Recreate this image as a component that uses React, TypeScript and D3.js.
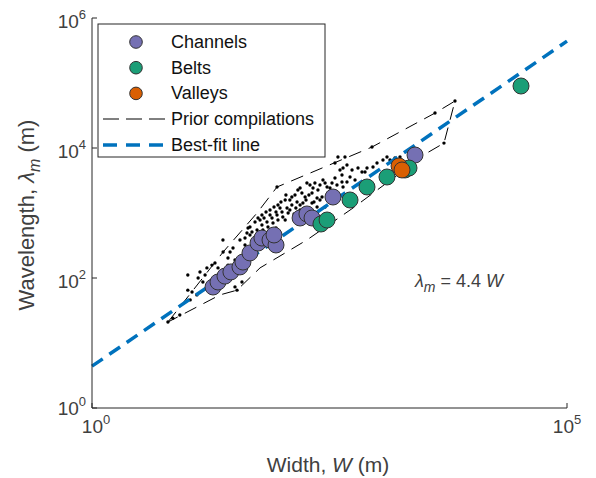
import React from "react";
import * as d3 from "d3";

// channel widths W (m) and wavelengths (m)
const channelW = [18.8, 21.2, 25.1, 29.0, 36.1, 38.8, 46.0, 55.9, 61.5, 74.8, 86.5, 82.4, 155, 183, 207, 344, 2512];
const channelL = [72.7, 86.8, 107, 124, 148, 176, 243, 345, 412, 384, 322, 459, 838, 966, 838, 1762, 7800];

const beltW = [257, 298, 520, 785, 1274, 1971, 2172, 32800];
const beltL = [677, 780, 1585, 2512, 3580, 4590, 4920, 89900];

const valleyW = [1706, 1833];
const valleyL = [5290, 4590];

// prior compilation data (small dots)
const priorW = [
  6.3, 24, 23.9, 42.8, 46, 40.8, 19.7, 18.3, 10.2, 13.1, 15.5, 14.7, 10.2, 11.3, 10.8, 12.7, 32, 33.6, 37.9,
  7.1, 8.4, 27, 21.2, 88.6, 183, 270, 212, 298, 162, 175, 207, 234, 264, 305, 144, 166, 127, 207, 234, 113,
  100, 116, 88.6, 102, 78.5, 90.7, 69.5, 80.4, 61.5, 71.2, 54.6, 43.9, 48.3, 63, 428, 428, 388, 460, 336,
  127, 284, 379, 886, 439, 483, 1274, 1371, 908, 1000, 748, 695, 785, 520, 587, 483, 439, 1545, 1746,
  4080, 361, 408, 6620, 5070,
  52, 55.9, 61.5, 67.9, 74.8, 82.4, 90.7, 97.5, 108, 121, 137, 147, 155, 197, 222, 239, 251, 284, 320, 361,
  110, 95.3, 86.5, 74.8, 64.7, 58.7, 121, 140, 155, 179, 192, 217, 251, 298, 46, 40.8, 36.1, 30.5, 28.4,
  155, 134, 108, 86.5, 71.2, 546, 631, 1156, 1545, 32, 27, 16.2, 13.7,
];
const priorL = [
  21, 251, 385, 492, 609, 322, 170, 158, 111, 100, 111, 87, 65, 61, 46, 55, 73, 65, 87,
  24, 27, 158, 143, 2512, 2896, 3220, 2426, 2512, 2030, 1762, 2030, 1700, 1762, 2030, 1477, 1425, 1327, 1425, 1237, 1194,
  1036, 1000, 931, 868, 838, 780, 727, 702, 654, 609, 548, 588, 510, 548, 3000, 3845, 7270, 7270, 2896,
  1762, 1237, 2700, 10360, 4920, 5470, 7270, 6530, 5100, 5880, 4276, 4276, 4920, 3580, 3220, 3000, 2512, 7020, 7270,
  34500, 5880, 4590, 52800, 11900,
  727, 838, 931, 1036, 1112, 1237, 1327, 1477, 1585, 1585, 1892, 2259, 2426, 2700, 2896, 2259, 2700, 2896, 2426, 3455,
  1892, 1194, 1036, 931, 838, 780, 1112, 1194, 1327, 1585, 1892, 1477, 1585, 1700, 459, 412, 385, 290, 251,
  1112, 966, 780, 588, 510, 4590, 4920, 6530, 5470, 189, 203, 143, 124,
];

// envelope of prior compilations
const envelopeW = [6.3, 11.6, 24, 54.6, 88.6, 886, 4080, 6620, 5070, 3360, 559, 183, 58.7, 33.6, 22.3, 6.3];
const envelopeL = [21, 65, 251, 1000, 2512, 10360, 34500, 52800, 11900, 8380, 1194, 385, 143, 65, 55, 21];

const fitSlope = 4.4;
const fitW = [1, 1e5];

const xTicks = [1, 1e5];
const yTicks = [1, 1e2, 1e4, 1e6];

const purple = "#7570b3";
const green = "#1b9e77";
const orange = "#d95f02";
const blue = "#0072bd";
const axisCol = "#262626";
const labelCol = "#404040";
const font = "'Liberation Sans', Arial, sans-serif";

const App = () => {
  const x = d3.scaleLog().domain([1, 1e5]).range([92, 567]);
  const y = d3.scaleLog().domain([1, 1e6]).range([408, 18]);

  const envLine = d3
    .line<number>()
    .x((_, i) => x(envelopeW[i]))
    .y((_, i) => y(envelopeL[i]));

  const fitLine = d3
    .line<number>()
    .x((w) => x(w))
    .y((w) => y(fitSlope * w));

  const pow = (v: number) => Math.round(Math.log10(v));

  const marker = (w: number[], l: number[], col: string) =>
    w.map((d, i) => (
      <circle key={col + i} cx={x(d)} cy={y(l[i])} r={8} fill={col} stroke="#333" strokeWidth={1} />
    ));

  const legendItems = [
    { label: "Channels", col: purple },
    { label: "Belts", col: green },
    { label: "Valleys", col: orange },
  ];

  return (
    <svg width={596} height={478} style={{ position: "absolute", left: 0, top: 0 }} fontFamily={font}>
      <rect width={596} height={478} fill="#fff" />

      {/* prior compilations */}
      <path
        d={envLine(envelopeW) || ""}
        fill="none"
        stroke="#000"
        strokeWidth={1}
        strokeDasharray="13,8"
      />
      {priorW.map((d, i) => (
        <circle key={"p" + i} cx={x(d)} cy={y(priorL[i])} r={1.7} fill="#000" />
      ))}

      {/* best fit */}
      <path
        d={fitLine(fitW) || ""}
        fill="none"
        stroke={blue}
        strokeWidth={3.5}
        strokeDasharray="13,8"
      />

      {marker(channelW, channelL, purple)}
      {marker(beltW, beltL, green)}
      {marker(valleyW, valleyL, orange)}

      {/* axes */}
      <g stroke={axisCol} strokeWidth={1} fill="none">
        <line x1={92} x2={92} y1={18} y2={408} />
        <line x1={92} x2={567} y1={408} y2={408} />
        {yTicks.map((t) => (
          <line key={"yt" + t} x1={92} x2={97} y1={y(t)} y2={y(t)} />
        ))}
        {xTicks.map((t) => (
          <line key={"xt" + t} x1={x(t)} x2={x(t)} y1={408} y2={403} />
        ))}
      </g>
      <g fill={labelCol} fontSize={19}>
        {yTicks.map((t) => (
          <text key={"yl" + t} x={86} y={y(t) + (t === 1 ? 7 : 10)} textAnchor="end">
            10<tspan dy={-9} fontSize={13}>{pow(t)}</tspan>
          </text>
        ))}
        {xTicks.map((t) => (
          <text key={"xl" + t} x={x(t) + (t === 1 ? 4 : 0)} y={433} textAnchor="middle">
            10<tspan dy={-9} fontSize={13}>{pow(t)}</tspan>
          </text>
        ))}
      </g>

      <text x={328} y={472} textAnchor="middle" fontSize={21} fill={labelCol}>
        Width, <tspan fontStyle="italic">W</tspan> (m)
      </text>
      <text transform="translate(34,215) rotate(-90)" textAnchor="middle" fontSize={22} fill={labelCol}>
        Wavelength, <tspan fontStyle="italic">λ</tspan>
        <tspan fontStyle="italic" dy={6} fontSize={16}>m</tspan>
        <tspan dy={-6}> (m)</tspan>
      </text>

      {/* annotation */}
      <text x={415} y={287} fontSize={18} fill={labelCol}>
        <tspan fontStyle="italic">λ</tspan>
        <tspan fontStyle="italic" dy={5} fontSize={14}>m</tspan>
        <tspan dy={-5}> = 4.4 </tspan>
        <tspan fontStyle="italic">W</tspan>
      </text>

      {/* legend */}
      <rect x={98} y={24} width={227} height={133} fill="#fff" stroke={axisCol} strokeWidth={1} />
      {legendItems.map((d, i) => (
        <g key={d.label}>
          <circle cx={136} cy={42 + i * 25.7} r={6.3} fill={d.col} stroke="#333" strokeWidth={1} />
          <text x={171} y={42 + i * 25.7 + 6} fontSize={18} fill="#111">
            {d.label}
          </text>
        </g>
      ))}
      <line x1={103} x2={165} y1={119} y2={119} stroke="#000" strokeWidth={1} strokeDasharray="16,7" />
      <text x={171} y={125} fontSize={18} fill="#111">
        Prior compilations
      </text>
      <line x1={103} x2={165} y1={145} y2={145} stroke={blue} strokeWidth={3.5} strokeDasharray="14,9" />
      <text x={171} y={151} fontSize={18} fill="#111">
        Best-fit line
      </text>
    </svg>
  );
};

export default App;
